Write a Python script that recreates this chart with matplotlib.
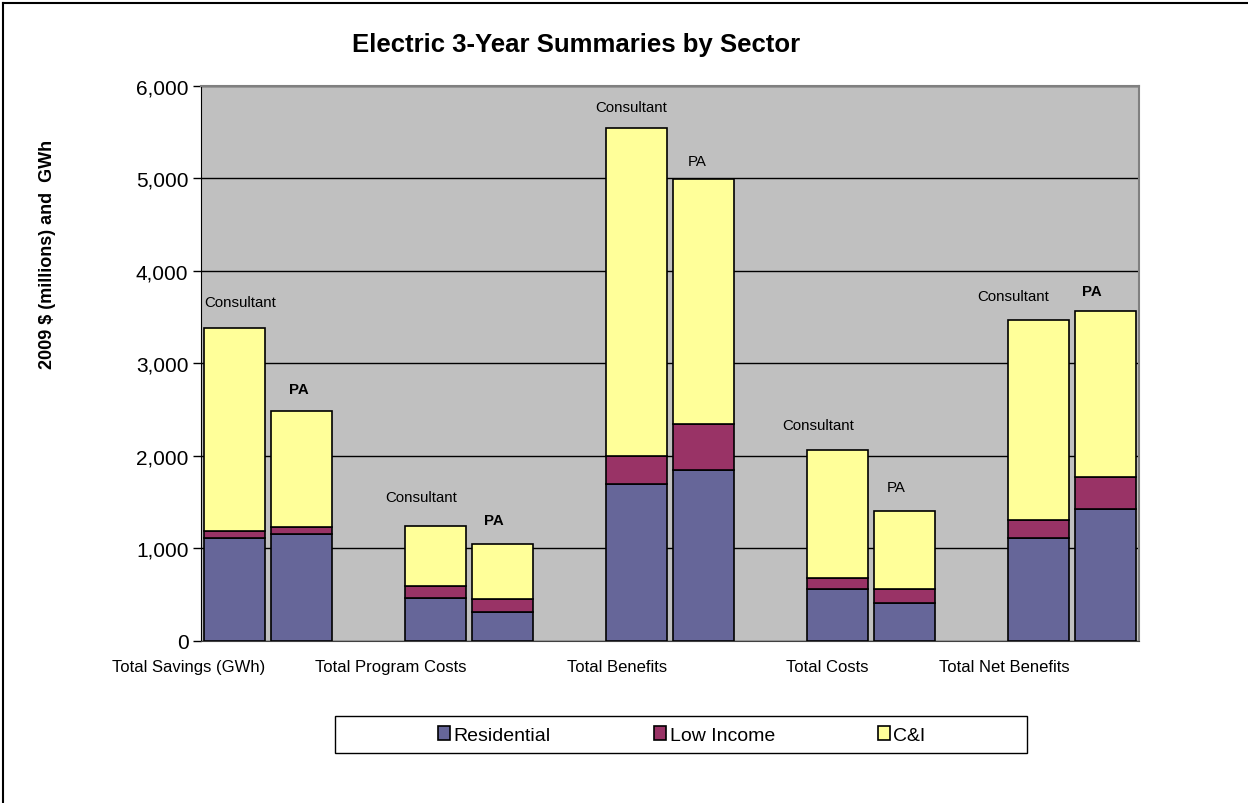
import matplotlib
matplotlib.use('Agg')
import matplotlib.pyplot as plt
from matplotlib.patches import Patch, Rectangle
from matplotlib.lines import Line2D

plt.rcParams['font.family'] = ['Liberation Sans', 'DejaVu Sans']

# data
categories = ['Total Savings (GWh)', 'Total Program Costs', 'Total Benefits',
              'Total Costs', 'Total Net Benefits']
sources = ['Consultant', 'PA']
residential = [1118, 1153, 469, 314, 1694, 1847, 566, 409, 1108, 1426]
low_income = [75, 84, 130, 144, 306, 500, 116, 153, 202, 351]
c_and_i = [2184, 1243, 644, 591, 3542, 2641, 1380, 839, 2157, 1789]
sectors = ['Residential', 'Low Income', 'C&I']
colors = ['#666699', '#993366', '#FFFF99']
yticks = [0, 1000, 2000, 3000, 4000, 5000, 6000]

# bar slots: two bars per category, one empty slot between categories
pos = []
for i in range(len(categories)):
    pos += [3 * i, 3 * i + 1]
width = 0.92

# label offsets (pixels) for the Consultant / PA notes above each bar
note_dx = [6, -3, -14, -9, -5, -6, -19, -8, -25, -14]
note_dy = [26, 22, 29, 24, 21, 18, 25, 24, 24, 20]
bold_note = [False, True, False, True, False, False, False, False, False, True]

fig = plt.figure(figsize=(12.48, 8.04), dpi=100)
ax = fig.add_axes([201 / 1248, 1 - 642 / 804, 938 / 1248, 555.3 / 804])
ax.set_facecolor('#C0C0C0')

bottoms = [0] * len(pos)
for vals, col in zip([residential, low_income, c_and_i], colors):
    ax.bar(pos, vals, width, bottom=bottoms, color=col, edgecolor='black',
           linewidth=1.2, zorder=3)
    bottoms = [b + v for b, v in zip(bottoms, vals)]

ax.set_xlim(-0.5, 13.5)
ax.set_ylim(0, 6000)
ax.set_yticks(yticks)
ax.set_yticklabels(['{:,}'.format(t) for t in yticks], fontsize=15)
ax.set_xticks([])
ax.yaxis.grid(True, color='black', linewidth=1)
ax.set_axisbelow(True)
ax.tick_params(axis='y', length=6, width=1, pad=3)
for s in ['top', 'right']:
    ax.spines[s].set_color('#808080')
    ax.spines[s].set_linewidth(1.5)
ax.spines['left'].set_color('black')
ax.spines['bottom'].set_color('#404040')

for i, (x, tot) in enumerate(zip(pos, bottoms)):
    ax.annotate(sources[i % 2], xy=(x, tot), xytext=(note_dx[i], note_dy[i]),
                textcoords='offset pixels', ha='center', va='center',
                fontsize=10.8, fontweight='bold' if bold_note[i] else 'normal')

for i, cat in enumerate(categories):
    ax.annotate(cat, xy=(pos[2 * i] + width / 2, 0), xytext=(0, -26),
                textcoords='offset pixels', ha='right', va='center',
                fontsize=12, annotation_clip=False)

fig.text(576 / 1248, 1 - 45 / 804, 'Electric 3-Year Summaries by Sector',
         ha='center', va='center', fontsize=18.5, fontweight='bold')
fig.text(48 / 1248, 1 - 254 / 804, '2009 $ (millions) and  GWh',
         ha='center', va='center', rotation=90, fontsize=13, fontweight='bold')

handles = [Patch(facecolor=c, edgecolor='black', linewidth=1.2) for c in colors]
fig.legend(handles, sectors, loc='center', ncol=3,
           bbox_to_anchor=(682 / 1248, 1 - 736 / 804), frameon=False,
           fontsize=14, columnspacing=5.3, handlelength=0.6,
           handleheight=0.75, handletextpad=0.2)
fig.patches.append(Rectangle((335 / 1248, 1 - 754 / 804), 692 / 1248, 37 / 804,
                             transform=fig.transFigure, fill=False,
                             edgecolor='black', linewidth=1))

# outer frame lines (top and left only)
fig.lines.append(Line2D([3 / 1248, 1], [1 - 4 / 804, 1 - 4 / 804],
                        transform=fig.transFigure, color='black', linewidth=1.5))
fig.lines.append(Line2D([3 / 1248, 3 / 1248], [0, 1 - 4 / 804],
                        transform=fig.transFigure, color='black', linewidth=1.5))

fig.savefig('out.png', dpi=100)
